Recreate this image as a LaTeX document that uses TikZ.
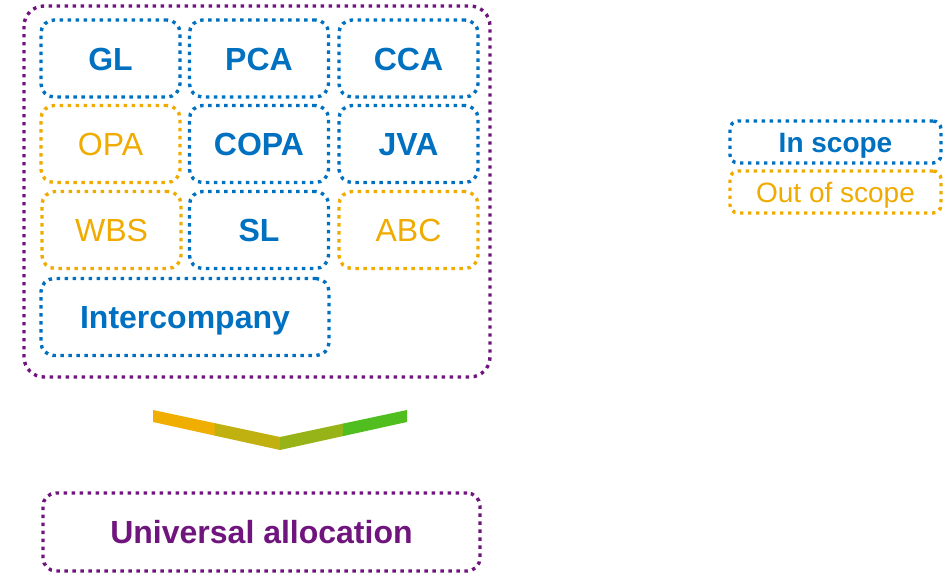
\documentclass[tikz,border=0pt]{standalone}
\usepackage{fontspec}
\setmainfont{Liberation Sans}
\usetikzlibrary{calc}
\definecolor{inblue}{RGB}{0,112,192}
\definecolor{outorange}{RGB}{240,171,0}
\definecolor{uapurple}{RGB}{112,20,126}
\definecolor{chA}{RGB}{240,174,0}
\definecolor{chB}{RGB}{192,176,16}
\definecolor{chC}{RGB}{150,180,24}
\definecolor{chD}{RGB}{80,190,30}
\tikzset{
  dotline/.style={line width=3.4pt, dash pattern=on 3.4pt off 4.6pt, rounded corners=13pt},
  capbig/.style={text height=23pt, text depth=0pt},
  capsmall/.style={text height=20pt, text depth=0pt},
  inbox/.style={dotline, capbig, draw=inblue, text=inblue, font=\fontsize{32}{36}\selectfont\bfseries, inner sep=0pt, minimum width=139pt, minimum height=77pt},
  outbox/.style={dotline, capbig, draw=outorange, text=outorange, font=\fontsize{32}{36}\selectfont, inner sep=0pt, minimum width=139pt, minimum height=77pt},
  legin/.style={dotline, capsmall, rounded corners=8pt, draw=inblue, text=inblue, font=\fontsize{28}{32}\selectfont\bfseries, inner sep=0pt, minimum width=211pt, minimum height=42pt},
  legout/.style={dotline, capsmall, rounded corners=8pt, draw=outorange, text=outorange, font=\fontsize{28}{32}\selectfont, inner sep=0pt, minimum width=211pt, minimum height=42pt},
  uabox/.style={dotline, capbig, draw=uapurple, text=uapurple, font=\fontsize{32}{36}\selectfont\bfseries, inner sep=0pt, minimum width=437pt, minimum height=78pt},
}
\begin{document}
\begin{tikzpicture}[x=1pt,y=-1pt]
\useasboundingbox (0,0) rectangle (950,573);
% outer group
\draw[dotline, rounded corners=20pt, draw=uapurple] (24,6) rectangle (490,377);
% row 1
\node[inbox] (gl) at (110.5,58.5) {GL};
\node[inbox] (pca) at (259,58.5) {PCA};
\node[inbox] (cca) at (408.5,58.5) {CCA};
% row 2
\node[outbox] (opa) at (110.5,144) {OPA};
\node[inbox] (copa) at (259,144) {COPA};
\node[inbox] (jva) at (408.5,144) {JVA};
% row 3
\node[outbox] (wbs) at (111.5,230) {WBS};
\node[inbox] (sl) at (259,230) {SL};
\node[outbox] (abc) at (408.5,230) {ABC};
% row 4
\node[inbox, minimum width=288pt] (ic) at (185,317) {Intercompany};
% chevron
\coordinate (t0) at (153,410);
\coordinate (tm) at (280,437);
\coordinate (t1) at (407,410);
\coordinate (b0) at (153,422);
\coordinate (bm) at (280,450);
\coordinate (b1) at (407,422);
\fill[chA] (t0) -- ($(t0)!0.49!(tm)$) -- ($(b0)!0.49!(bm)$) -- (b0) -- cycle;
\fill[chB] ($(t0)!0.485!(tm)$) -- (tm) -- (bm) -- ($(b0)!0.485!(bm)$) -- cycle;
\fill[chC] (tm) -- ($(tm)!0.5!(t1)$) -- ($(bm)!0.5!(b1)$) -- (bm) -- cycle;
\fill[chD] ($(tm)!0.495!(t1)$) -- (t1) -- (b1) -- ($(bm)!0.495!(b1)$) -- cycle;
% universal allocation
\node[uabox] (ua) at (261.5,532) {Universal allocation};
% legend
\node[legin] (lin) at (835.5,142) {In scope};
\node[legout] (lout) at (835.5,192) {Out of scope};
\end{tikzpicture}
\end{document}
